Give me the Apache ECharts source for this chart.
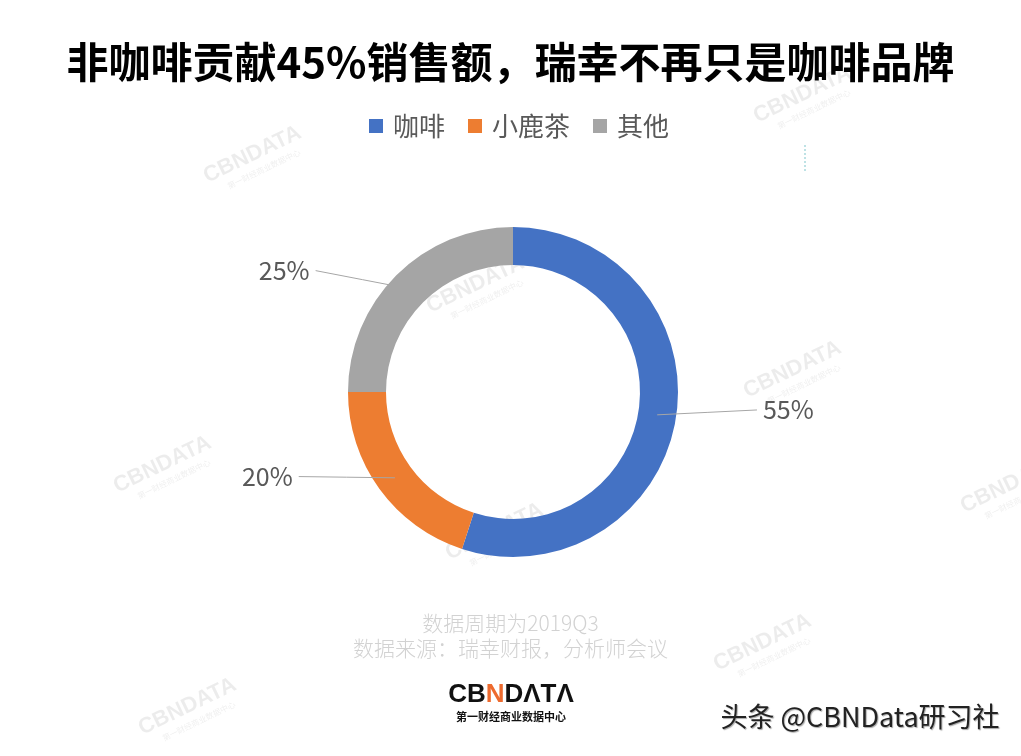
<!DOCTYPE html>
<html><head><meta charset="utf-8">
<script src="https://cdn.jsdelivr.net/npm/echarts@6/dist/echarts.min.js"></script>
<style>html,body{margin:0;padding:0;background:#fff}#c{width:1021px;height:756px}</style>
</head><body><div id="c"></div>
<script>
const categories = ['咖啡', '小鹿茶', '其他'];
const shares = [55, 20, 25];
const colors = ['#4472C4', '#ED7D31', '#A5A5A5'];
const titleText = '非咖啡贡献45%销售额，瑞幸不再只是咖啡品牌';
const noteLines = ['数据周期为2019Q3', '数据来源：瑞幸财报，分析师会议'];
const watermarkSpots = [[255,160],[478,290],[795,375],[165,470],[497,537],[805,100],[765,648],[190,712],[1012,490]];
// vertical nudge of each outside label (style only)
const labelNudge = [-8, -13, -4];

const cjk = '"Noto Sans CJK SC", "Noto Sans", sans-serif';
const chart = echarts.init(document.getElementById('c'), null, {renderer: 'canvas'});

const wm = watermarkSpots.map(p => ({
  type: 'group', x: p[0], y: p[1], rotation: 0.45, z: 100, silent: true,
  children: [
    {type: 'text', style: {text: 'CBNDATA', x: 0, y: -6, align: 'center', verticalAlign: 'middle',
      font: 'bold 22px Arial, "Liberation Sans", sans-serif', fill: 'rgba(0,0,0,0.075)'}},
    {type: 'text', style: {text: '第一财经商业数据中心', x: 4, y: 12, align: 'center', verticalAlign: 'middle',
      font: '8px ' + cjk, fill: 'rgba(0,0,0,0.07)'}}
  ]
}));

const pieData = categories.map((c, i) => ({name: c, value: shares[i]}));

chart.setOption({
  animation: false,
  color: colors,
  title: {
    text: titleText, left: 'center', top: 36,
    textStyle: {fontFamily: cjk, fontWeight: 'bold', fontSize: 42, color: '#000'}
  },
  legend: {
    data: categories, top: 113, left: 369, padding: 0, icon: 'rect',
    itemWidth: 14, itemHeight: 14, itemGap: 23,
    textStyle: {fontFamily: cjk, fontSize: 26, color: '#595959', padding: [0, 0, 0, 5]}
  },
  series: [{
    type: 'pie', center: [513, 392], radius: [127, 165], startAngle: 90, clockwise: true,
    data: pieData, label: {show: false}, labelLine: {show: false},
    emphasis: {disabled: true}, itemStyle: {borderWidth: 0}
  }, {
    type: 'pie', center: [513, 392], radius: [0, 146], startAngle: 90, clockwise: true,
    data: pieData, silent: true, z: 5, legendHoverLink: false,
    itemStyle: {color: 'rgba(0,0,0,0)', borderWidth: 0},
    label: {
      show: true, position: 'outside', formatter: '{c}%',
      fontFamily: cjk, fontSize: 25, color: '#595959', distanceToLabelLine: 6
    },
    labelLine: {show: true, length: 20, length2: 80, smooth: false, lineStyle: {color: '#a6a6a6', width: 1}},
    labelLayout: function (params) {
      const d = labelNudge[params.dataIndex] || 0;
      const p = params.labelLinePoints;
      if (!p) return {dy: d};
      const s = p[0], e = [p[2][0], p[2][1] + d];
      return {dy: d, labelLinePoints: [s, [(s[0] + e[0]) / 2, (s[1] + e[1]) / 2], e]};
    },
    emphasis: {disabled: true}
  }],
  graphic: [
    {type: 'text', left: 'center', top: 613, style: {text: noteLines[0], font: '300 21px ' + cjk, fill: '#d2d2d2'}},
    {type: 'text', left: 'center', top: 638, style: {text: noteLines[1], font: '300 21px ' + cjk, fill: '#d2d2d2'}},
    {type: 'text', x: 511, y: 695, style: {
      text: '{k|CB}{o|N}{k|DΛTΛ}', align: 'center', verticalAlign: 'middle',
      rich: {k: {font: '900 26px Arial, "Liberation Sans", sans-serif', fill: '#111'},
             o: {font: '900 26px Arial, "Liberation Sans", sans-serif', fill: '#ED6A2E'}}
    }},
    {type: 'text', x: 511, y: 717, style: {text: '第一财经商业数据中心', align: 'center', verticalAlign: 'middle',
      font: 'bold 11px ' + cjk, fill: '#111'}},
    {type: 'text', x: 860, y: 717, style: {text: '头条 @CBNData研习社', align: 'center', verticalAlign: 'middle',
      font: '27px ' + cjk, fill: '#222', textShadowColor: 'rgba(0,0,0,0.35)', textShadowBlur: 1, textShadowOffsetX: 1, textShadowOffsetY: 1}},
    {type: 'line', shape: {x1: 805, y1: 145, x2: 805, y2: 171}, style: {stroke: '#7fc6cc', lineWidth: 1, lineDash: [2, 2]}},
    ...wm
  ]
});
</script></body></html>
